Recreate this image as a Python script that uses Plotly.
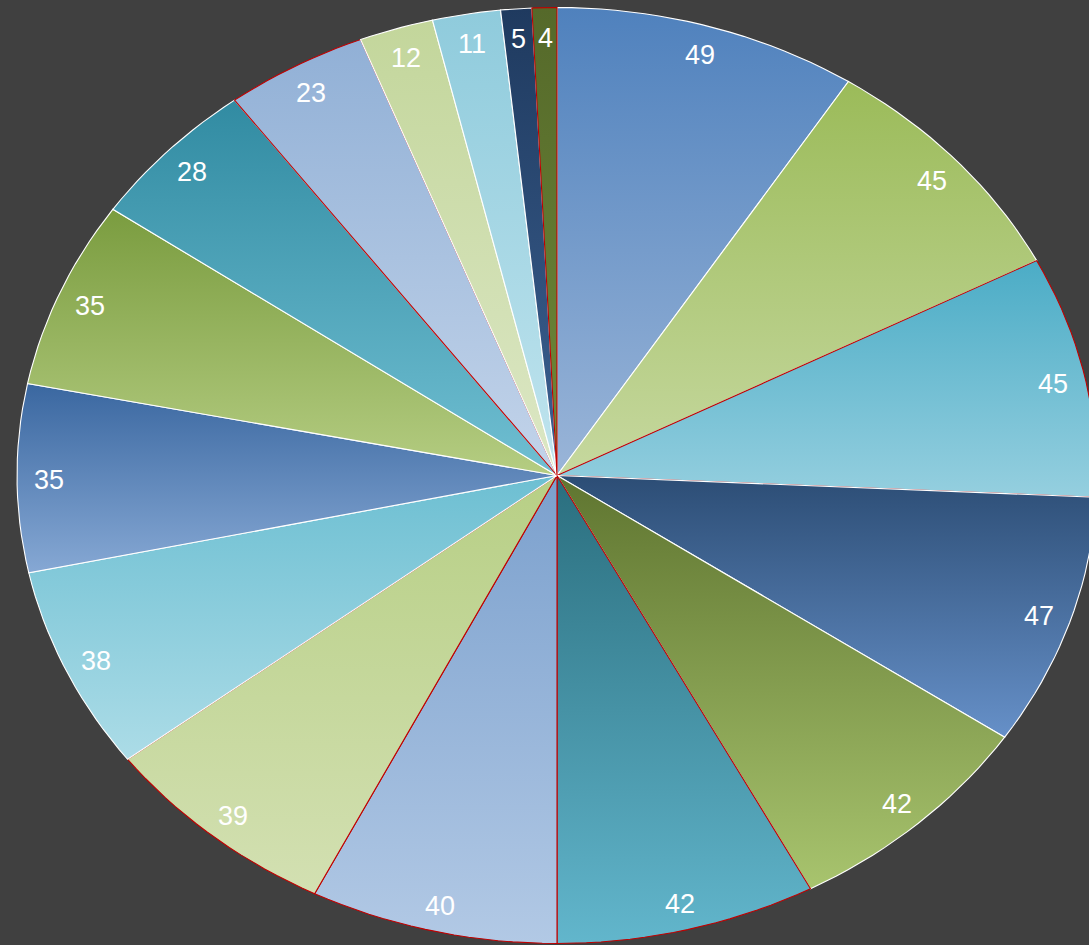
import numpy as np
import plotly.graph_objects as go

# ---- data (clockwise from 12 o'clock) ----
values = [49, 45, 45, 47, 42, 42, 40, 39, 38, 35, 35, 28, 23, 12, 11, 5, 4]
labels = [str(v) for v in values]
top_colors = ["#4f81bd", "#9bbb59", "#4bacc6", "#2c4d75", "#5f7530", "#2a6e7e",
              "#7ba0cd", "#b7cf85", "#6dbfd2", "#3a67a0", "#7a9c3f", "#318ba2",
              "#91b0d6", "#c3d69b", "#8fcbdc", "#1f3a5f", "#55692a"]
bottom_colors = ["#9ab5d8", "#c6d89f", "#95cfdf", "#6690c8", "#a8c46e", "#62b6cc",
                 "#b2c9e5", "#d3e0b2", "#acdce7", "#86a8d4", "#b5cd82", "#70bfd2",
                 "#c3d4ea", "#dce7c5", "#c0e4ee", "#3c6192", "#6e8938"]
border_colors = ["#ffffff", "#ffffff", "#c00000", "#ffffff", "#ffffff", "#c00000",
                 "#c00000", "#c00000", "#ffffff", "#ffffff", "#ffffff", "#ffffff",
                 "#c00000", "#ffffff", "#ffffff", "#ffffff", "#c00000"]

BG = "#404040"
W, H = 1089, 945
CX, CY, RX, RY = 557, 475.5, 540, 468  # ellipse in pixels (layout only)
LABEL_R = 0.94

total = float(sum(values))
fracs = np.array(values) / total
ends = np.cumsum(fracs) * 2 * np.pi
starts = ends - fracs * 2 * np.pi

fig = go.Figure()
for i, v in enumerate(values):
    a0, a1 = starts[i], ends[i]
    n = max(8, int(200 * fracs[i]) + 4)
    th = np.linspace(a0, a1, n)
    xs = np.concatenate([[0], np.sin(th), [0]])
    ys = np.concatenate([[0], np.cos(th), [0]])
    fig.add_trace(go.Scatter(
        x=xs, y=ys, mode="lines", fill="toself",
        fillgradient=dict(type="vertical",
                          colorscale=[[0, bottom_colors[i]], [1, top_colors[i]]]),
        line=dict(color=border_colors[i], width=1.1),
        hoverinfo="skip", showlegend=False))

mids = (starts + ends) / 2
for i, lab in enumerate(labels):
    fig.add_annotation(
        x=LABEL_R * np.sin(mids[i]), y=LABEL_R * np.cos(mids[i]),
        xref="x", yref="y", text=lab, showarrow=False, yshift=-2,
        font=dict(color="#ffffff", size=27, family="Liberation Sans, Arial, sans-serif"))

xr = [(0 - CX) / RX, (W - CX) / RX]
yr = [-(H - CY) / RY, CY / RY]
fig.update_layout(
    width=W, height=H, autosize=False,
    margin=dict(l=0, r=0, t=0, b=0),
    paper_bgcolor=BG, plot_bgcolor=BG,
    xaxis=dict(range=xr, visible=False, fixedrange=True),
    yaxis=dict(range=yr, visible=False, fixedrange=True),
)
fig.write_html("out.html")
